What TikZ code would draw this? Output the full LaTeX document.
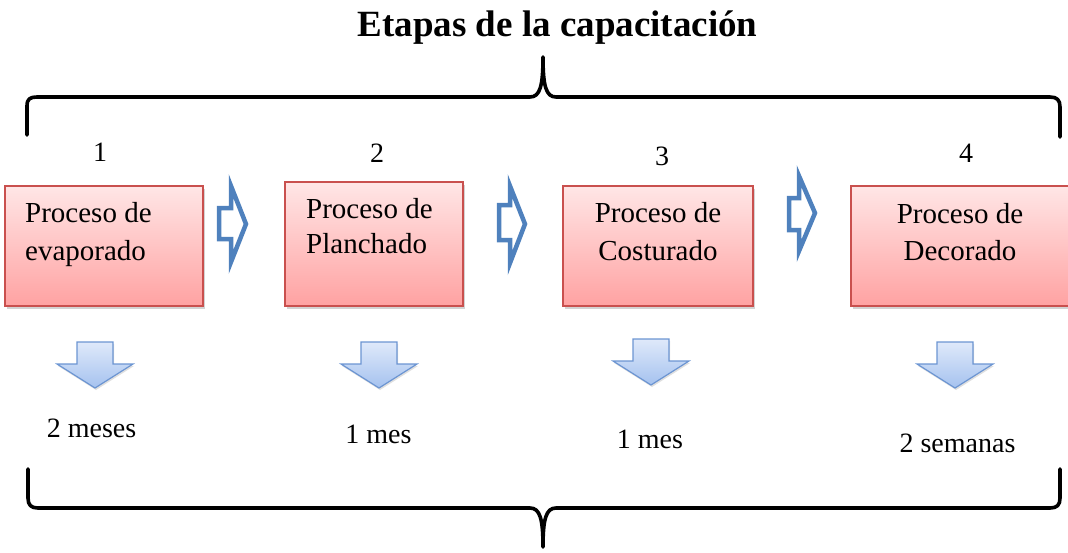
\documentclass[tikz,border=0pt]{standalone}
\usepackage{fontspec}
\setmainfont{Liberation Serif}
\usetikzlibrary{shadows}
\definecolor{boxtop}{HTML}{FFE6E6}
\definecolor{boxbot}{HTML}{FFA2A2}
\definecolor{boxline}{HTML}{C9504E}
\definecolor{rarrow}{HTML}{4F81BD}
\definecolor{dtop}{HTML}{DFE9FA}
\definecolor{dbot}{HTML}{A5C2EF}
\definecolor{dline}{HTML}{6C95D2}
\tikzset{
  procbox/.style={draw=boxline, line width=1.3pt, top color=boxtop, bottom color=boxbot,
    drop shadow={opacity=0.35, shadow xshift=1.5pt, shadow yshift=-3pt}},
  boxtext/.style={inner sep=0pt, font=\fontsize{29}{34}\selectfont},
  lbl/.style={inner sep=0pt, font=\fontsize{28}{32}\selectfont},
  rarr/.style={draw=rarrow, line width=4.5pt, fill=white, line join=miter},
  darr/.style={draw=dline, line width=1.2pt, top color=dtop, bottom color=dbot, line join=miter,
    drop shadow={opacity=0.25, shadow xshift=1pt, shadow yshift=-2pt}},
  bracepath/.style={draw=black, line width=3.6pt, line cap=round, line join=round}
}
\begin{document}
\begin{tikzpicture}[x=1pt,y=-1pt]
\useasboundingbox (0,0) rectangle (1068,552);
% title
\node[inner sep=0pt, anchor=base, font=\fontsize{37}{40}\selectfont\bfseries] (title) at (557.5,36) {Etapas de la capacitación};
% top brace
\draw[bracepath] (27,135) -- (27,106) .. controls (27,99) and (30,97) .. (37,97) -- (530,97)
  .. controls (540,97) and (543,86) .. (543,57) .. controls (543,86) and (546,97) .. (556,97)
  -- (1050,97) .. controls (1057,97) and (1060,100) .. (1060,107) -- (1060,137);
% bottom brace
\draw[bracepath] (28,469) -- (28,498) .. controls (28,505) and (31,508) .. (38,508) -- (530,508)
  .. controls (540,508) and (543,519) .. (543,547) .. controls (543,519) and (546,508) .. (556,508)
  -- (1050,508) .. controls (1057,508) and (1060,505) .. (1060,498) -- (1060,469);
% numbers
\node[lbl, anchor=base] (n1) at (100,161) {1};
\node[lbl, anchor=base] (n2) at (377,162) {2};
\node[lbl, anchor=base] (n3) at (662,165) {3};
\node[lbl, anchor=base] (n4) at (966,162) {4};
% boxes
\path[procbox] (5,186) rectangle (203,306);
\path[procbox] (285,182) rectangle (463,306);
\path[procbox] (563,186) rectangle (753,306);
\path[procbox] (851,186) rectangle (1080,306);
\node[boxtext, anchor=base west] (b1a) at (25,222) {Proceso de};
\node[boxtext, anchor=base west] (b1b) at (25,260) {evaporado};
\node[boxtext, anchor=base west] (b2a) at (306,218) {Proceso de};
\node[boxtext, anchor=base west] (b2b) at (306,253) {Planchado};
\node[boxtext, anchor=base] (b3a) at (658,222) {Proceso de};
\node[boxtext, anchor=base] (b3b) at (658,260) {Costurado};
\node[boxtext, anchor=base] (b4a) at (960,223) {Proceso de};
\node[boxtext, anchor=base] (b4b) at (960,260) {Decorado};
% right hollow arrows
\path[rarr] (219,208) -- (231,208) -- (231,186) -- (246,224) -- (231,262) -- (231,239) -- (219,239) -- cycle;
\path[rarr] (499,205) -- (510,205) -- (510,186) -- (525,224) -- (510,263) -- (510,240) -- (499,240) -- cycle;
\path[rarr] (789,198) -- (799,198) -- (799,176) -- (815,213) -- (799,251) -- (799,230) -- (789,230) -- cycle;
% down arrows
\foreach \cx/\ty in {95/342, 379/342, 651/339, 955/342}{
  \path[darr] (\cx-18,\ty) -- (\cx+18,\ty) -- (\cx+18,\ty+22) -- (\cx+38,\ty+22) -- (\cx,\ty+46)
    -- (\cx-38,\ty+22) -- (\cx-18,\ty+22) -- cycle;
}
% durations
\node[lbl, anchor=base] (d1) at (91.5,437) {2 meses};
\node[lbl, anchor=base] (d2) at (378.5,443) {1 mes};
\node[lbl, anchor=base] (d3) at (650,448) {1 mes};
\node[lbl, anchor=base] (d4) at (957.5,452) {2 semanas};
\end{tikzpicture}
\end{document}
